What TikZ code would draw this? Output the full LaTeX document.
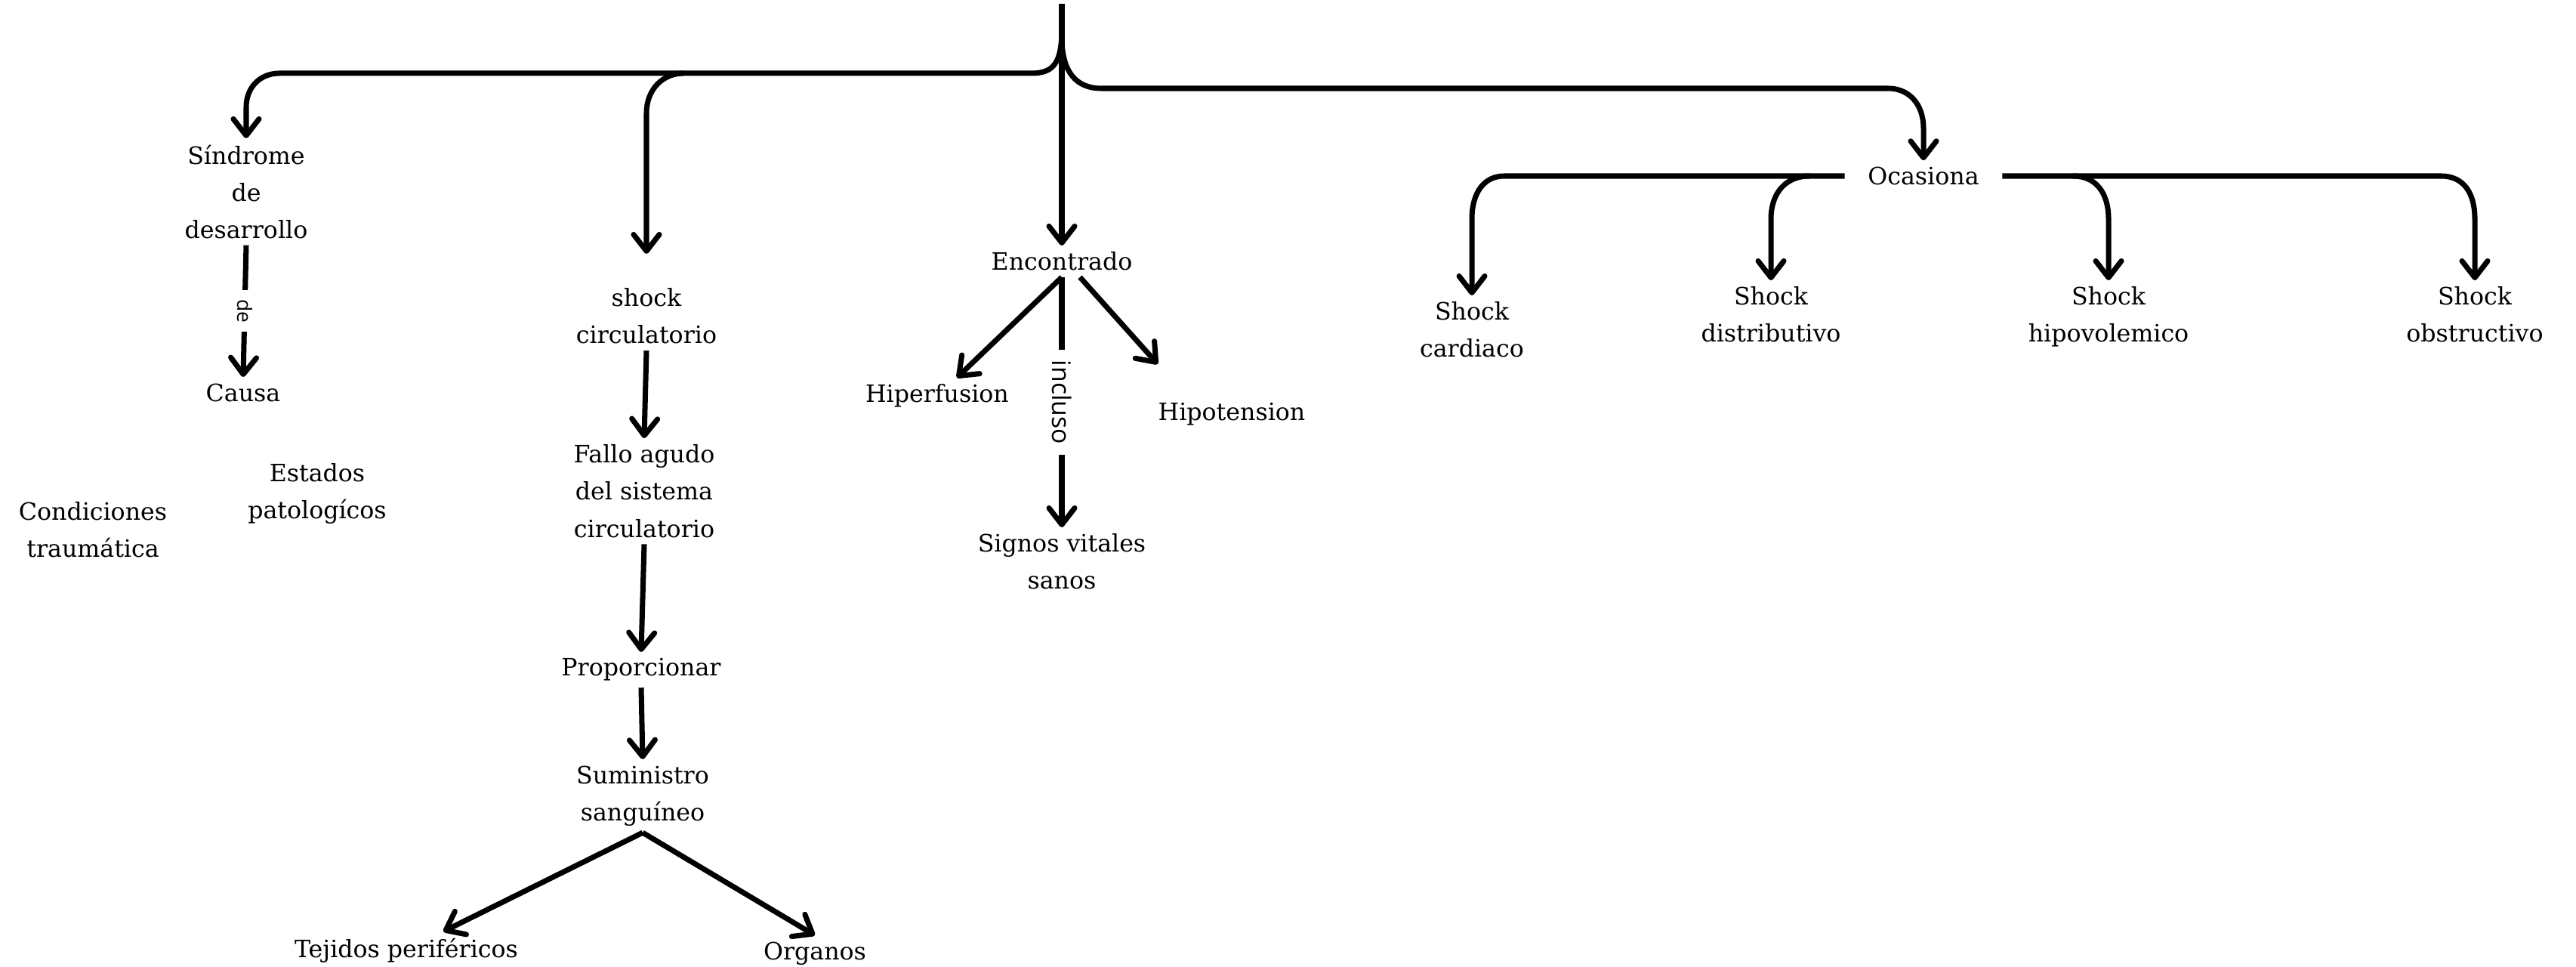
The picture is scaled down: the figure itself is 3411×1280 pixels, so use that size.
\documentclass[tikz,border=0pt]{standalone}
\usepackage{fontspec}
\setmainfont{DejaVu Serif}
\newfontfamily\lblfont{Open Sans}
\usetikzlibrary{arrows.meta}
\begin{document}
\begin{tikzpicture}[x=0.01cm,y=-0.01cm,
  txt/.style={font=\fontsize{9}{14}\selectfont, align=center, inner sep=0.08cm, anchor=north},
  arr/.style={line width=2pt, -{Straight Barb[length=0.22cm,width=0.34cm,round]}},
  lbl/.style={font=\lblfont\fontsize{9.6}{11}\selectfont, fill=white, rotate=-90, inner xsep=0.14cm, inner ysep=0.02cm},
  smalllbl/.style={lbl, font=\lblfont\fontsize{7.5}{9}\selectfont, inner xsep=0.12cm}]
\useasboundingbox (0,0) rectangle (3411,1280);

% nodes
\node[txt] (sind) at (326,183) {Síndrome\\de\\desarrollo};
\node[txt] (causa) at (322,499) {Causa};
\node[txt] (cond) at (123,656) {Condiciones\\traumática};
\node[txt] (estad) at (420,605) {Estados\\patologícos};
\node[txt] (shockc) at (856,373) {shock\\circulatorio};
\node[txt] (fallo) at (853,580) {Fallo agudo\\del sistema\\circulatorio};
\node[txt] (prop) at (849,863) {Proporcionar};
\node[txt] (sumi) at (851,1005) {Suministro\\sanguíneo};
\node[txt] (tej) at (538,1233) {Tejidos periféricos};
\node[txt] (org) at (1079,1238) {Organos};
\node[txt] (enc) at (1406,325) {Encontrado};
\node[txt] (hiper) at (1241,500) {Hiperfusion};
\node[txt] (hipo) at (1631,525) {Hipotension};
\node[txt] (sig) at (1406,698) {Signos vitales\\sanos};
\node[txt, anchor=center, inner xsep=0.3cm] (oca) at (2547,233) {Ocasiona};
\node[txt] (card) at (1949,391) {Shock\\cardiaco};
\node[txt] (dist) at (2345,371) {Shock\\distributivo};
\node[txt] (hipov) at (2792,371) {Shock\\hipovolemico};
\node[txt] (obst) at (3277,371) {Shock\\obstructivo};

% coordinates
\coordinate (top) at (1406,5);
\coordinate (jl) at (1406,38);
\coordinate (jr) at (1406,50);
\coordinate (bsc) at (905,97);
\coordinate (bdist) at (2396,233);
\coordinate (bhipov) at (2745,233);

% trunk
\draw[arr] (top) -- (enc.north);
\draw[arr] (jl) .. controls (1406,82) and (1396,97) .. (1366,97) -- (370,97)
  .. controls (345,97) and (326,115) .. (326,142) -- (sind.north);
\draw[arr, shorten >=0.37cm] (bsc) .. controls (878,97) and (856,118) .. (856,150) -- (shockc.north);
\draw[arr] (jr) .. controls (1406,95) and (1425,117) .. (1458,117) -- (2500,117)
  .. controls (2528,117) and (2547,138) .. (2547,170) -- (oca.north);

% left column
\draw[arr] (sind.south) -- node[smalllbl]{de} (causa.north);

% shock circulatorio column
\draw[arr] (shockc.south) -- (fallo.north);
\draw[arr] (fallo.south) -- (prop.north);
\draw[arr] (prop.south) -- (sumi.north);
\draw[arr] (sumi.south) -- ([xshift=0.49cm]tej.north);
\draw[arr] (sumi.south) -- (org.north);

% Encontrado
\draw[arr] (enc.south) -- ([xshift=0.26cm]hiper.north);
\draw[arr] ([xshift=0.24cm]enc.south) -- ([xshift=0.08cm,yshift=0.43cm]hipo.north west);
\draw[arr] (enc.south) -- node[lbl]{incluso} (sig.north);

% Ocasiona
\draw[arr] (oca.west) -- (1992,233) .. controls (1965,233) and (1949,255) .. (1949,290) -- (card.north);
\draw[arr] (bdist) .. controls (2365,233) and (2345,255) .. (2345,290) -- (dist.north);
\draw[arr] (oca.east) -- (3232,233) .. controls (3262,233) and (3277,255) .. (3277,290) -- (obst.north);
\draw[arr] (bhipov) .. controls (2775,233) and (2792,255) .. (2792,290) -- (hipov.north);
\end{tikzpicture}
\end{document}
